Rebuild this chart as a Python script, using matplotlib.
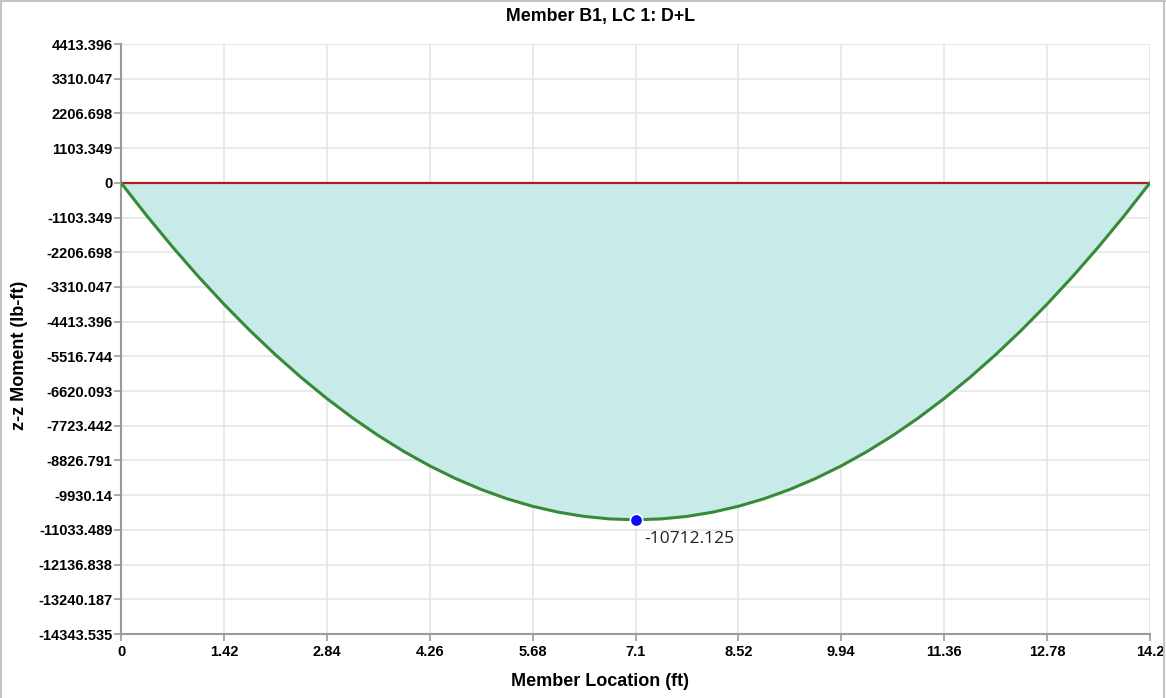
import matplotlib
matplotlib.use("Agg")
import matplotlib.pyplot as plt

# member location (ft) and z-z moment (lb-ft)
location = [0, 0.355, 0.71, 1.065, 1.42, 1.775, 2.13, 2.485, 2.84, 3.195,
            3.55, 3.905, 4.26, 4.615, 4.97, 5.325, 5.68, 6.035, 6.39, 6.745,
            7.1, 7.455, 7.81, 8.165, 8.52, 8.875, 9.23, 9.585, 9.94, 10.295,
            10.65, 11.005, 11.36, 11.715, 12.07, 12.425, 12.78, 13.135, 13.49,
            13.845, 14.2]
moment = [0, -1044, -2035, -2973, -3856, -4687, -5463, -6186, -6856, -7472,
          -8034, -8543, -8998, -9400, -9748, -10043, -10284, -10471, -10605,
          -10685, -10712.125, -10685, -10605, -10471, -10284, -10043, -9748,
          -9400, -8998, -8543, -8034, -7472, -6856, -6186, -5463, -4687, -3856,
          -2973, -2035, -1044, 0]
peak_x, peak_y = 7.1, -10712.125

x_ticks = [0, 1.42, 2.84, 4.26, 5.68, 7.1, 8.52, 9.94, 11.36, 12.78, 14.2]
y_ticks = [4413.396, 3310.047, 2206.698, 1103.349, 0, -1103.349, -2206.698,
           -3310.047, -4413.396, -5516.744, -6620.093, -7723.442, -8826.791,
           -9930.14, -11033.489, -12136.838, -13240.187, -14343.535]
y_labels = ["4413.396", "3310.047", "2206.698", "1103.349", "0", "-1103.349",
            "-2206.698", "-3310.047", "-4413.396", "-5516.744", "-6620.093",
            "-7723.442", "-8826.791", "-9930.14", "-11033.489", "-12136.838",
            "-13240.187", "-14343.535"]

plt.rcParams["font.family"] = ["Liberation Sans", "DejaVu Sans"]

fig = plt.figure(figsize=(11.66, 6.98), dpi=100)
fig.patch.set_facecolor("white")
ax = fig.add_axes([121/1166, 1 - 634/698, (1150 - 121)/1166, (634 - 44)/698])

# light frame round the picture (left, top, right)
for xs, ys in [([1/1166, 1/1166], [0, 1]),
               ([0, 1], [1 - 1/698, 1 - 1/698]),
               ([1164/1166, 1164/1166], [0, 1])]:
    fig.add_artist(plt.Line2D(xs, ys, color="#c4c4c4", lw=1.5,
                              transform=fig.transFigure))

ax.fill_between(location, 0, moment, color="#c8eae9", lw=0, zorder=2)
ax.plot([location[0], location[-1]], [0, 0], color="#b01c1c", lw=1.6, zorder=3)
ax.plot(location, moment, color="#378a37", lw=2.2, zorder=4,
        solid_capstyle="round", solid_joinstyle="round")
ax.scatter([peak_x], [peak_y], s=80, color="#0a0aff", edgecolor="white",
           linewidth=1.2, zorder=5)
ax.annotate(f"{peak_y}", (peak_x, peak_y), xytext=(6, -14),
            textcoords="offset points", ha="left", va="center",
            fontsize=12.5, color="#222222", family=["Open Sans", "DejaVu Sans"])

ax.set_xlim(0, 14.2)
ax.set_ylim(y_ticks[-1], y_ticks[0])
ax.set_xticks(x_ticks)
ax.set_xticklabels([f"{v:g}" for v in x_ticks])
ax.set_yticks(y_ticks)
ax.set_yticklabels(y_labels)

ax.grid(True, color="#e6e6e6", lw=1.2, zorder=0)
ax.set_axisbelow(True)
for side in ["top", "right"]:
    ax.spines[side].set_visible(False)
for side in ["left", "bottom"]:
    ax.spines[side].set_color("#9a9a9a")
    ax.spines[side].set_linewidth(1.5)
# outer grid edges
ax.axhline(y_ticks[0], color="#e6e6e6", lw=1.2, zorder=0)
ax.axvline(x_ticks[-1], color="#e6e6e6", lw=1.2, zorder=0)

ax.tick_params(axis="both", colors="#9a9a9a", length=5, width=1.2,
               labelcolor="black", labelsize=10.5, pad=1)
ax.tick_params(axis="x", pad=3)
for lab in ax.get_xticklabels() + ax.get_yticklabels():
    lab.set_fontweight("bold")

fig.text(600/1166, 1 - 17/698, "Member B1, LC 1: D+L", ha="center", va="center",
         fontsize=12.8, fontweight="bold")
fig.text(600/1166, 1 - 682/698, "Member Location (ft)",
         ha="center", va="center", fontsize=13, fontweight="bold")
fig.text(20/1166, 1 - 355/698, "z-z Moment (lb-ft)", ha="center", va="center",
         rotation=90, fontsize=13, fontweight="bold")

fig.savefig("out.png", dpi=100, facecolor="white")
